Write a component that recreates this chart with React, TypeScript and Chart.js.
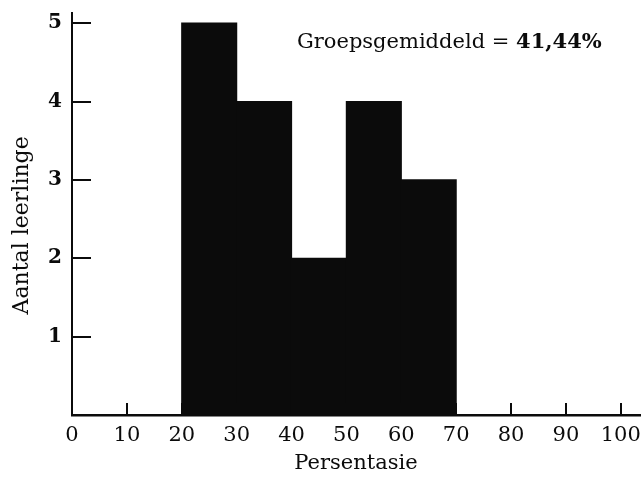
import React, { useEffect, useRef } from "react";
import { Chart, registerables } from "chart.js";

Chart.register(...registerables);

// ---- data ----
const binStarts = [20, 30, 40, 50, 60];
const binWidth = 10;
const counts = [5, 4, 2, 4, 3];
const xTicks = [0, 10, 20, 30, 40, 50, 60, 70, 80, 90, 100];
const yTicks = [1, 2, 3, 4, 5];
const xTitle = "Persentasie";
const yTitle = "Aantal leerlinge";
const meanLabel = "Groepsgemiddeld = ";
const meanValue = "41,44%";

const SERIF = "'DejaVu Serif', 'Liberation Serif', serif";
const INK = "#0b0b0b";

const innerTicksPlugin = {
  id: "innerTicks",
  afterDatasetsDraw(chart: any) {
    const { ctx, chartArea, scales } = chart;
    const x = scales.x;
    const y = scales.y;
    ctx.save();
    ctx.strokeStyle = INK;
    ctx.lineWidth = 2;
    yTicks.forEach((v) => {
      const py = Math.round(y.getPixelForValue(v));
      ctx.beginPath();
      ctx.moveTo(chartArea.left, py);
      ctx.lineTo(chartArea.left + 19, py);
      ctx.stroke();
    });
    xTicks.forEach((v) => {
      if (v === 0) return;
      const px = Math.round(x.getPixelForValue(v));
      ctx.beginPath();
      ctx.moveTo(px, chartArea.bottom);
      ctx.lineTo(px, chartArea.bottom - 12);
      ctx.stroke();
    });
    // annotation
    const tx = x.getPixelForValue(41);
    const ty = y.getPixelForValue(4.75);
    ctx.fillStyle = INK;
    ctx.textBaseline = "middle";
    ctx.textAlign = "left";
    ctx.font = `21px ${SERIF}`;
    ctx.fillText(meanLabel, tx, ty);
    const w = ctx.measureText(meanLabel).width;
    ctx.font = `bold 21px ${SERIF}`;
    ctx.fillText(meanValue, tx + w, ty);
    // y axis title
    ctx.save();
    ctx.translate(chartArea.left - 50, y.getPixelForValue(2.42));
    ctx.rotate(-Math.PI / 2);
    ctx.textAlign = "center";
    ctx.textBaseline = "middle";
    ctx.font = `22px ${SERIF}`;
    ctx.fillText(yTitle, 0, 0);
    ctx.restore();
    ctx.restore();
  },
};

export default function App() {
  const canvasRef = useRef<HTMLCanvasElement | null>(null);

  useEffect(() => {
    document.body.style.margin = "0";
    const canvas = canvasRef.current;
    if (!canvas) return;
    const data = binStarts.map((s, i) => ({ x: s + binWidth / 2, y: counts[i] }));
    const chart = new Chart(canvas, {
      type: "bar",
      data: {
        datasets: [
          {
            data: data as any,
            backgroundColor: INK,
            borderWidth: 0,
            inflateAmount: 0.6,
            barPercentage: 1,
            categoryPercentage: 1,
          } as any,
        ],
      },
      plugins: [innerTicksPlugin],
      options: {
        animation: false,
        responsive: false,
        devicePixelRatio: 1,
        layout: { padding: { top: 13, right: 1, left: 0, bottom: 0 } },
        plugins: {
          legend: { display: false },
          tooltip: { enabled: false },
        },
        scales: {
          x: {
            type: "linear",
            offset: false,
            min: 0,
            max: 103.5,
            afterBuildTicks: (scale: any) => {
              scale.ticks = xTicks.map((v) => ({ value: v }));
            },
            afterFit: (scale: any) => {
              scale.height = 67;
              scale.paddingLeft = 0;
              scale.paddingRight = 0;
            },
            grid: { display: false, drawTicks: false, offset: false },
            border: { display: true, color: INK, width: 2.5 },
            ticks: {
              autoSkip: false,
              maxRotation: 0,
              padding: 8,
              color: INK,
              font: { family: SERIF, size: 21 },
            },
            title: {
              display: true,
              text: xTitle,
              color: INK,
              font: { family: SERIF, size: 21 },
              padding: { top: 0, bottom: 6 },
            },
          },
          y: {
            type: "linear",
            min: 0,
            max: 5.13,
            afterBuildTicks: (scale: any) => {
              scale.ticks = yTicks.map((v) => ({ value: v }));
            },
            afterFit: (scale: any) => {
              scale.width = 72;
              scale.paddingTop = 0;
              scale.paddingBottom = 0;
            },
            grid: { display: false, drawTicks: false },
            border: { display: true, color: INK, width: 2 },
            ticks: {
              padding: 10,
              color: INK,
              font: { family: SERIF, size: 20, weight: "bold" },
            },
            title: { display: false },
          },
        },
      },
    });
    return () => chart.destroy();
  }, []);

  return (
    <div style={{ width: 641, height: 482, background: "#fff" }}>
      <canvas ref={canvasRef} width={641} height={482} style={{ display: "block" }} />
    </div>
  );
}
